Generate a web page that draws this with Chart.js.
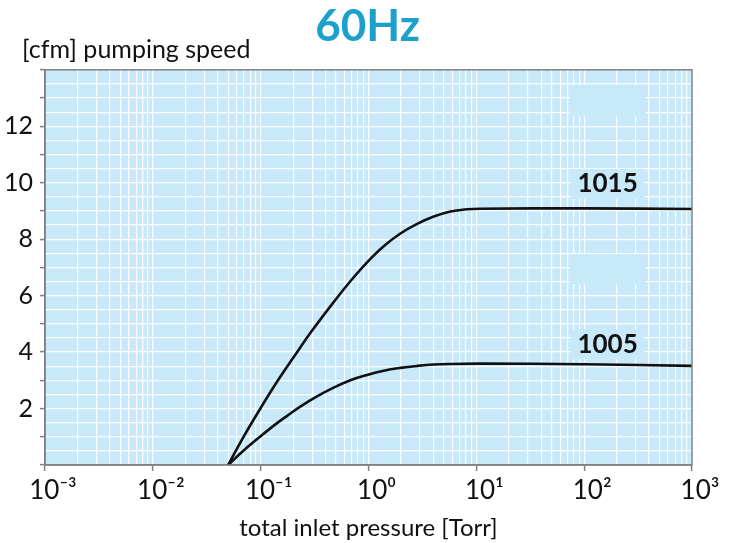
<!DOCTYPE html>
<html>
<head>
<meta charset="utf-8">
<script src="https://cdn.jsdelivr.net/npm/chart.js@4"></script>
<style>
  html, body { margin: 0; background: #fff; }
  #wrap { width: 735px; height: 543px; }
</style>
</head>
<body>
<div id="wrap"><canvas id="graph"></canvas></div>
<script>
// Curva 1015
const pressure1015 = [0.05, 0.0675, 0.1, 0.1375, 0.204, 0.301, 0.475, 0.679, 0.97, 1.384, 1.977, 2.825, 4.03, 5.75, 8.22, 10.9, 100, 1000];
const speed1015    = [0,    0.92,   2.02, 2.87,  3.84,  4.77,  5.77,  6.51,  7.18, 7.75,  8.2,   8.54,  8.8,  8.98, 9.06, 9.08, 9.09, 9.07];

// Curva 1005
const pressure1005 = [0.05, 0.0675, 0.1,  0.137, 0.177, 0.233, 0.333, 0.475, 0.679, 0.97, 1.384, 1.977, 2.825, 4.03, 5.75, 10.9, 100,  1000];
const speed1005    = [0,    0.47,   1.02, 1.44,  1.75,  2.07,  2.43,  2.74,  3.0,   3.19, 3.34,  3.44,  3.51,  3.56, 3.58, 3.59, 3.57, 3.51];

// Etichette assi
const xExponents = [-3, -2, -1, 0, 1, 2, 3];
const yLabelValues = [2, 4, 6, 8, 10, 12];

const sup = { '-': '\u207B', '0': '\u2070', '1': '\u00B9', '2': '\u00B2', '3': '\u00B3' };
function supText(n) {
	return String(n).split('').map(c => sup[c]).join('');
}
function isDecade(v) {
	let l = Math.log10(v);
	return Math.abs(l - Math.round(l)) < 1e-9;
}

const bgColor = 'rgb(199, 233, 250)';
const fontFam = "Lato, 'DejaVu Sans', sans-serif";

// Sfondo, riquadri vuoti, bordo ed etichette delle curve
const decorPlugin = {
	id: 'decor',
	beforeDraw(chart) {
		const a = chart.chartArea, ctx = chart.ctx;
		ctx.save();
		ctx.fillStyle = bgColor;
		ctx.fillRect(a.left, a.top, a.right - a.left, a.bottom - a.top);
		ctx.restore();
	},
	beforeDatasetsDraw(chart, args, opts) {
		const ctx = chart.ctx, x = chart.scales.x, y = chart.scales.y;
		ctx.save();
		ctx.fillStyle = bgColor;
		opts.masks.forEach(m => {
			let x0 = x.getPixelForValue(m[0]), x1 = x.getPixelForValue(m[1]);
			let y0 = y.getPixelForValue(m[2]), y1 = y.getPixelForValue(m[3]);
			ctx.fillRect(x0, y0, x1 - x0, y1 - y0);
		});
		opts.labels.forEach(l => {
			let px = x.getPixelForValue(l.x), py = y.getPixelForValue(l.y);
			ctx.fillRect(px - 37, py - 15, 74, 30);
		});
		ctx.restore();
	},
	afterDraw(chart, args, opts) {
		const a = chart.chartArea, ctx = chart.ctx, x = chart.scales.x, y = chart.scales.y;
		ctx.save();
		// etichette curve
		ctx.fillStyle = '#111';
		ctx.font = 'bold 26px ' + fontFam;
		ctx.textAlign = 'center';
		ctx.textBaseline = 'middle';
		opts.labels.forEach(l => {
			ctx.fillText(l.text, x.getPixelForValue(l.x), y.getPixelForValue(l.y));
		});
		// titolo asse y
		ctx.font = '25px ' + fontFam;
		ctx.textAlign = 'left';
		ctx.textBaseline = 'alphabetic';
		ctx.fillText('[cfm] pumping speed', 22, 58);
		// bordo
		ctx.strokeStyle = '#808080';
		ctx.lineWidth = 1.5;
		ctx.strokeRect(a.left, a.top, a.right - a.left, a.bottom - a.top);
		ctx.restore();
	}
};

let config = {
	type: 'line',
	data: {
		datasets: [{
			label: '1015',
			data: pressure1015.map((p, i) => ({ x: p, y: speed1015[i] })),
			borderColor: '#111',
			borderWidth: 2.6,
			pointRadius: 0,
			tension: 0.4
		}, {
			label: '1005',
			data: pressure1005.map((p, i) => ({ x: p, y: speed1005[i] })),
			borderColor: '#111',
			borderWidth: 2.6,
			pointRadius: 0,
			tension: 0.4
		}]
	},
	options: {
		responsive: true,
		maintainAspectRatio: false,
		animation: false,
		layout: { padding: 0 },
		plugins: {
			legend: { display: false },
			tooltip: { enabled: false },
			title: {
				display: true,
				text: '60Hz',
				color: '#1ba1cb',
				font: { size: 44, weight: 'bold', family: fontFam },
				padding: { top: 0, bottom: 17 }
			},
			decor: {
				masks: [[74, 370, 13.45, 12.35], [74, 370, 7.47, 6.4]],
				labels: [{ text: '1015', x: 165, y: 9.96 }, { text: '1005', x: 165, y: 4.27 }]
			}
		},
		scales: {
			x: {
				type: 'logarithmic',
				min: 0.001,
				max: 1000,
				afterBuildTicks: function(scale) {
					let t = [];
					for (let e = xExponents[0]; e < xExponents[xExponents.length - 1]; e++) {
						for (let m = 1; m < 10; m++) t.push({ value: m * Math.pow(10, e) });
					}
					t.push({ value: Math.pow(10, xExponents[xExponents.length - 1]) });
					scale.ticks = t;
				},
				afterFit: function(scale) { scale.height = 78; },
				ticks: {
					autoSkip: false,
					maxRotation: 0,
					padding: 4,
					labelOffset: 8,
					color: '#111',
					font: { size: 26, family: fontFam },
					callback: function(v) {
						if (!isDecade(v)) return '';
						return '10' + supText(Math.round(Math.log10(v)));
					}
				},
				grid: {
					color: 'rgba(255,255,255,0.95)',
					lineWidth: 1.2,
					tickLength: 6,
					tickWidth: 1.5,
					tickColor: ctx => (ctx.tick && isDecade(ctx.tick.value)) ? '#808080' : 'rgba(0,0,0,0)'
				},
				border: { display: true, color: '#808080', width: 1.5 },
				title: {
					display: true,
					text: 'total inlet pressure [Torr]',
					color: '#111',
					font: { size: 24, family: fontFam },
					padding: { top: 2, bottom: 0 }
				}
			},
			y: {
				min: 0,
				max: 14,
				afterFit: function(scale) { scale.width = 45; },
				ticks: {
					stepSize: 0.5,
					autoSkip: false,
					padding: 7,
					color: '#111',
					font: { size: 25, family: fontFam },
					callback: v => yLabelValues.includes(v) ? String(v) : ''
				},
				grid: {
					color: 'rgba(255,255,255,0.95)',
					lineWidth: 1.2,
					tickLength: 5,
					tickWidth: 1.5,
					tickColor: ctx => (ctx.tick && Number.isInteger(ctx.tick.value)) ? '#808080' : 'rgba(0,0,0,0)'
				},
				border: { display: true, color: '#808080', width: 1.5 }
			},
			// asse vuoto a destra, solo per il margine
			yRight: {
				position: 'right',
				display: true,
				afterFit: function(scale) { scale.width = 43; },
				ticks: { display: false },
				grid: { display: false, drawOnChartArea: false },
				border: { display: false }
			}
		}
	},
	plugins: [decorPlugin]
};

var ctxg = document.getElementById('graph').getContext('2d');
window.myLine = new Chart(ctxg, config);
</script>
</body>
</html>
